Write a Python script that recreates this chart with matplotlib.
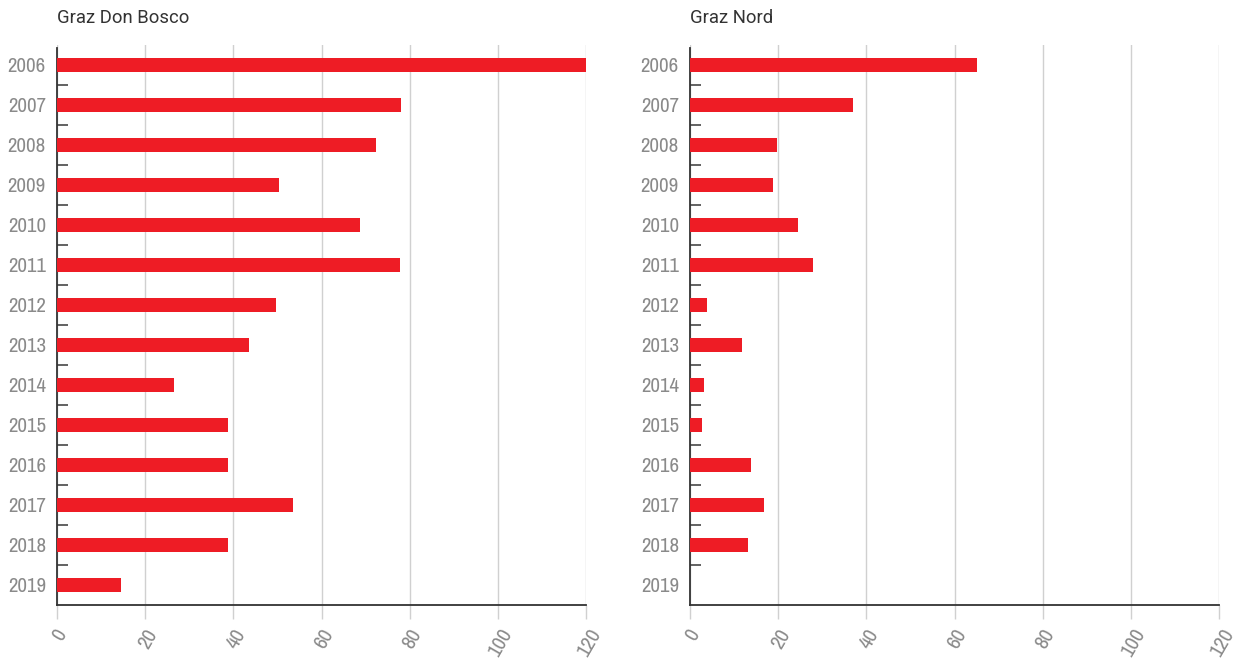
import matplotlib.pyplot as plt
import matplotlib.transforms as mtransforms
from matplotlib import font_manager
import numpy as np

years = ["2006", "2007", "2008", "2009", "2010", "2011", "2012",
         "2013", "2014", "2015", "2016", "2017", "2018", "2019"]
don_bosco = [120, 78.0, 72.4, 50.4, 68.7, 77.8, 49.7,
             43.6, 26.5, 38.8, 38.8, 53.5, 38.8, 14.5]
nord = [65.2, 37.0, 19.8, 18.9, 24.5, 28.0, 3.9,
        11.8, 3.2, 2.7, 13.9, 16.8, 13.2, 0]
panels = [("Graz Don Bosco", don_bosco), ("Graz Nord", nord)]
xticks = [0, 20, 40, 60, 80, 100, 120]

# look for a condensed face for the tick labels
names = sorted({f.name for f in font_manager.fontManager.ttflist})
narrow = [n for n in names if 'Condensed' in n or 'Narrow' in n]
tick_family = narrow[:1] + ['Roboto', 'DejaVu Sans']
tick_size = 15 if narrow else 12.5

fig = plt.figure(figsize=(12.36, 6.59), dpi=100)
lefts = [57 / 1236, 690 / 1236]
bottom = 1 - 605 / 659
height = (605 - 45) / 659
width = 529 / 1236

for (title, vals), left in zip(panels, lefts):
    ax = fig.add_axes([left, bottom, width, height])
    y = np.arange(len(years))
    ax.barh(y, vals, height=0.35, color='#ee1c25', zorder=3)
    ax.set_ylim(len(years) - 0.5, -0.5)
    ax.set_xlim(0, 120)
    ax.set_yticks(y)
    ax.set_yticklabels(years, family=tick_family, fontweight='light')
    ax.set_yticks(y[:-1] + 0.5, minor=True)
    ax.tick_params(axis='y', which='major', length=0, pad=8,
                   labelsize=tick_size, labelcolor='#8a8a8a')
    ax.tick_params(axis='y', which='minor', direction='in', length=8,
                   width=1.3, color='#555555')
    ax.set_xticks(xticks)
    ax.set_xticklabels([str(t) for t in xticks], rotation=60,
                       family=tick_family, fontweight='light')
    ax.tick_params(axis='x', which='major', length=10, width=1,
                   color='#d0d0d0', labelsize=tick_size,
                   labelcolor='#8a8a8a', pad=5)
    offset = mtransforms.ScaledTranslation(3 / 100, 0, fig.dpi_scale_trans)
    for lab in ax.get_xticklabels():
        lab.set_transform(lab.get_transform() + offset)
    ax.xaxis.grid(True, color='#d0d0d0', linewidth=1, zorder=0)
    ax.set_axisbelow(True)
    for s in ['top', 'right']:
        ax.spines[s].set_visible(False)
    ax.spines['left'].set_color('#333333')
    ax.spines['bottom'].set_color('#333333')
    ax.spines['left'].set_linewidth(1.3)
    ax.spines['bottom'].set_linewidth(1.3)
    ax.spines['left'].set_bounds(len(years) - 0.5, -0.42)
    fig.text(left, 1 - 18 / 659, title, fontsize=13.3, color='#333333',
             family=['Roboto', 'DejaVu Sans'], ha='left', va='center')

fig.savefig('out.png', dpi=100)
